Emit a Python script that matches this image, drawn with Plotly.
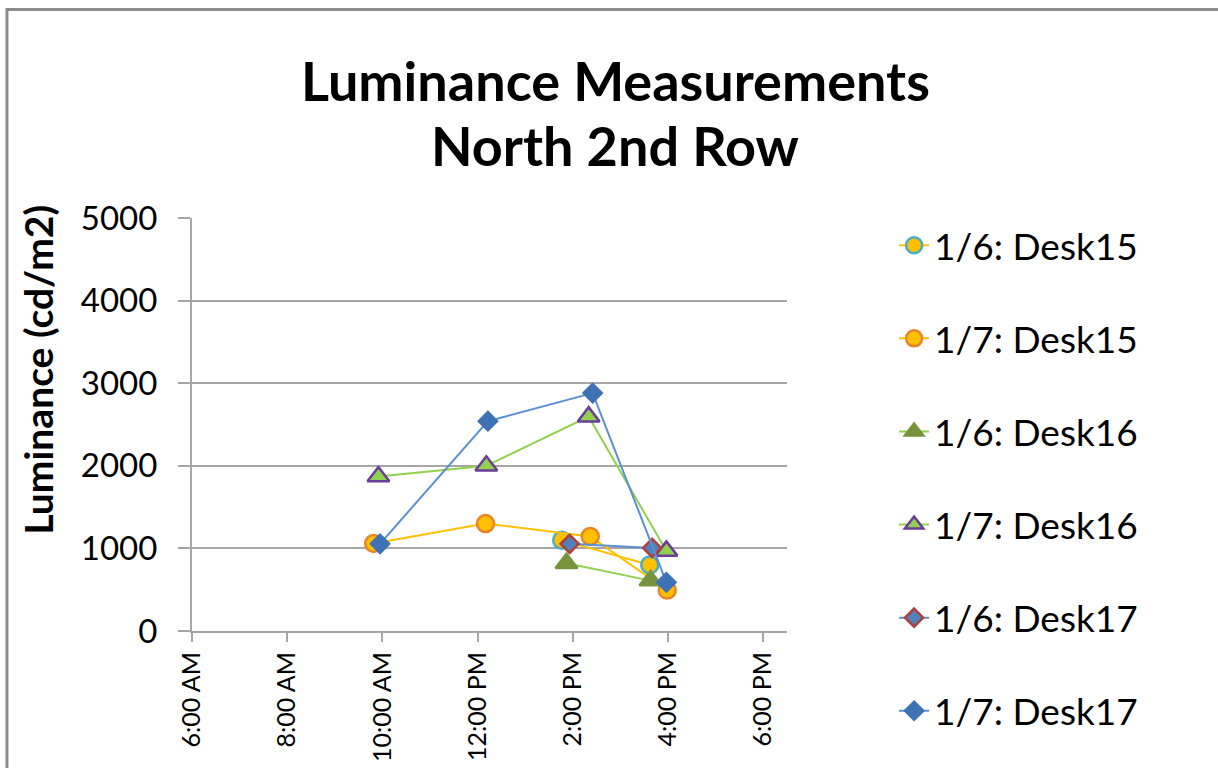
import pandas as pd
import plotly.graph_objects as go

# Measurement times (same working day) and luminance readings, cd/m2
DAY = "2014-01-06 "

desk15_jan6_times = ["13:46", "15:37"]
desk15_jan6_values = [1100, 800]

desk15_jan7_times = ["09:49", "12:10", "14:22", "15:59"]
desk15_jan7_values = [1060, 1300, 1145, 495]

desk16_jan6_times = ["13:52", "15:38"]
desk16_jan6_values = [820, 610]

desk16_jan7_times = ["09:55", "12:11", "14:20", "15:58"]
desk16_jan7_values = [1870, 2000, 2595, 970]

desk17_jan6_times = ["13:56", "15:40"]
desk17_jan6_values = [1055, 1005]

desk17_jan7_times = ["09:57", "12:13", "14:25", "15:58"]
desk17_jan7_values = [1055, 2540, 2880, 590]

series_names = [
    "1/6: Desk15", "1/7: Desk15",
    "1/6: Desk16", "1/7: Desk16",
    "1/6: Desk17", "1/7: Desk17",
]

tick_times = ["06:00", "08:00", "10:00", "12:00", "14:00", "16:00", "18:00"]
tick_labels = ["6:00 AM", "8:00 AM", "10:00 AM", "12:00 PM", "2:00 PM", "4:00 PM", "6:00 PM"]
y_ticks = [0, 1000, 2000, 3000, 4000, 5000]


def stamp(times):
    return pd.to_datetime([DAY + t for t in times])


FONT = "Lato"

# line colour, marker symbol, marker fill, marker outline, marker size
styles = [
    ("#FFC000", "circle", "#FFC000", "#4BACC6", 17),
    ("#FFC000", "circle", "#FFC000", "#E8842C", 17),
    ("#92D050", "triangle-up", "#77933C", "#77933C", 19),
    ("#92D050", "triangle-up", "#92D050", "#6A3D98", 19),
    ("#5B8FD3", "diamond", "#4F81BD", "#B0403C", 14),
    ("#5B8FD3", "diamond", "#3F72B5", "#3F72B5", 14),
]

series = [
    (desk15_jan6_times, desk15_jan6_values),
    (desk15_jan7_times, desk15_jan7_values),
    (desk16_jan6_times, desk16_jan6_values),
    (desk16_jan7_times, desk16_jan7_values),
    (desk17_jan6_times, desk17_jan6_values),
    (desk17_jan7_times, desk17_jan7_values),
]

fig = go.Figure()
for name, (times, values), (lc, sym, fill, edge, size) in zip(series_names, series, styles):
    fig.add_trace(go.Scatter(
        x=stamp(times), y=values, name=name, mode="lines+markers",
        legendgroup=name,
        line=dict(color=lc, width=2),
        marker=dict(symbol=sym, size=size, color=fill,
                    line=dict(color=edge, width=2.5)),
    ))

fig.update_layout(
    width=1218, height=768,
    margin=dict(l=192, r=431, t=218, b=137, pad=0, autoexpand=False),
    paper_bgcolor="white", plot_bgcolor="white",
    font=dict(family=FONT, color="black"),
    showlegend=True,
    legend=dict(
        x=1.18, y=1.008, xanchor="left", yanchor="top",
        font=dict(family=FONT, size=37, color="black"),
        tracegroupgap=42, itemwidth=30, maxheight=640,
        bgcolor="rgba(0,0,0,0)",
    ),
    xaxis=dict(
        type="date", automargin=False,
        range=[DAY + "06:00", DAY + "18:30"],
        tickvals=stamp(tick_times), ticktext=tick_labels,
        tickangle=-90,
        tickfont=dict(family=FONT, size=25, color="black"),
        ticks="outside", ticklen=9, tickwidth=2, tickcolor="#A6A6A6",
        showline=True, linecolor="#A6A6A6", linewidth=2,
        showgrid=False, zeroline=False,
    ),
    yaxis=dict(
        range=[0, 5000], tickvals=y_ticks, automargin=False,
        tickfont=dict(family=FONT, size=33, color="black"),
        ticks="outside", ticklen=12, tickwidth=2, tickcolor="#A6A6A6",
        ticklabelstandoff=14,
        showline=True, linecolor="#A6A6A6", linewidth=2,
        showgrid=True, gridcolor="#A6A6A6", gridwidth=2,
        zeroline=False,
    ),
    annotations=[
        dict(text="Luminance Measurements", xref="paper", yref="paper",
             x=0.711, y=1.332, xanchor="center", yanchor="middle", showarrow=False,
             font=dict(family=FONT, size=54, color="black", weight="bold")),
        dict(text="North 2nd Row", xref="paper", yref="paper",
             x=0.711, y=1.176, xanchor="center", yanchor="middle", showarrow=False,
             font=dict(family=FONT, size=54, color="black", weight="bold")),
        dict(text="Luminance (cd/m2)", xref="paper", yref="paper",
             x=-0.258, y=0.634, xanchor="center", yanchor="middle", showarrow=False,
             textangle=-90,
             font=dict(family=FONT, size=39, color="black", weight="bold")),
    ],
    shapes=[
        # chart frame
        dict(type="rect", xref="paper", yref="paper",
             x0=-0.311, x1=2.5, y0=-1.0, y1=1.505,
             line=dict(color="#8C8C8C", width=3), fillcolor="rgba(0,0,0,0)",
             layer="below"),
    ],
)

fig.write_html("out.html")
